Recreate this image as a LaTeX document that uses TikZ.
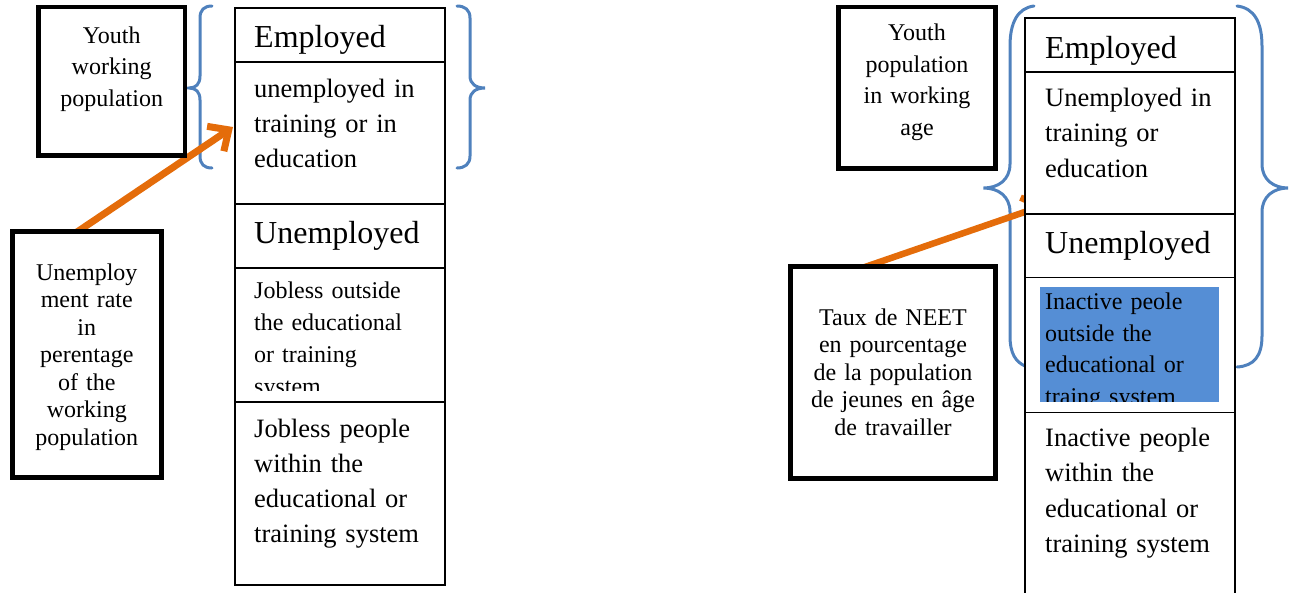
\documentclass[tikz,border=0pt]{standalone}
\usepackage{fontspec}
\setmainfont{Liberation Serif}
\usetikzlibrary{arrows.meta}
\definecolor{bracecol}{RGB}{79,129,189}
\definecolor{arrcol}{RGB}{228,108,10}
\definecolor{hlcol}{RGB}{85,142,213}
\begin{document}
\begin{tikzpicture}[x=1pt,y=-1pt,
  thickbox/.style={draw=black, fill=white, inner sep=0pt},
  cell/.style={draw=black, line width=1.5pt, fill=white, inner sep=0pt, anchor=north west, minimum width=210pt},
  bracestyle/.style={draw=bracecol, line width=3pt, line cap=round},
  conn/.style={draw=arrcol, line width=7pt},
  bigtext/.style={font=\fontsize{32}{38}\selectfont, anchor=base west, inner sep=0pt},
  midtext/.style={font=\fontsize{26.5}{35.2}\selectfont, anchor=base west, inner sep=0pt, text width=200pt, align=left},
  smalltext/.style={font=\fontsize{24}{32}\selectfont, anchor=base west, inner sep=0pt, text width=190pt, align=left},
  boxtext/.style={font=\fontsize{24}{#1}\selectfont, anchor=base, inner sep=0pt, text width=200pt, align=center},
]
\useasboundingbox (0,0) rectangle (1291,592);

% ---------- braces ----------
\draw[bracestyle] (212,6) .. controls (204,6) and (200,10) .. (200,18) -- (200,76)
  .. controls (200,84) and (196,88) .. (189,88) .. controls (196,88) and (200,92) .. (200,100)
  -- (200,156) .. controls (200,164) and (204,168) .. (212,168);
\draw[bracestyle] (457,6) .. controls (465,6) and (470,10) .. (470,18) -- (470,76)
  .. controls (470,84) and (476,88) .. (485,88) .. controls (476,88) and (470,92) .. (470,100)
  -- (470,156) .. controls (470,164) and (465,168) .. (457,168);
\draw[bracestyle] (1034,6) .. controls (1018,8) and (1010,22) .. (1010,46) -- (1010,164)
  .. controls (1010,180) and (998,188) .. (983.5,188) .. controls (998,188) and (1010,196) .. (1010,212)
  -- (1010,336) .. controls (1010,354) and (1016,362) .. (1025,366);
\draw[bracestyle] (1237,6) .. controls (1254,8) and (1262,22) .. (1262,46) -- (1262,164)
  .. controls (1262,180) and (1274,188) .. (1288,188) .. controls (1274,188) and (1262,196) .. (1262,212)
  -- (1262,336) .. controls (1262,356) and (1254,366) .. (1237,367);

% ---------- right connector (partly hidden behind the column) ----------
\coordinate (ra) at (862,268);
\coordinate (rb) at (1045,205);
\draw[conn, line width=6.5pt, -{Straight Barb[length=16pt,width=30pt]}] (ra) -- (rb);

% ---------- left column ----------
\node[cell, minimum height=54pt]  (lc1) at (234,7) {};
\node[cell, minimum height=142pt] (lc2) at (234,61) {};
\node[cell, minimum height=64pt]  (lc3) at (234,203) {};
\node[cell, minimum height=134pt] (lc4) at (234,267) {};
\node[cell, minimum height=183pt] (lc5) at (234,401) {};

\node[bigtext] (lt1) at (254,47) {Employed};
\node[midtext] (lt2) at (254,97) {unemployed in\\training or in\\education};
\node[bigtext] (lt3) at (254,243) {Unemployed};
\begin{scope}
  \clip (236,269) rectangle (442,390);
  \node[smalltext] (lt4) at (254,298) {Jobless outside\\the educational\\or training\\system};
\end{scope}
\node[midtext] (lt5) at (254,437) {Jobless people\\within the\\educational or\\training system};

% ---------- right column ----------
\node[cell, minimum height=53.7pt]  (rc1) at (1024.3,17.3) {};
\node[cell, minimum height=142.3pt] (rc2) at (1024.3,71) {};
\node[cell, minimum height=63.4pt]  (rc3) at (1024.3,213.3) {};
\node[cell, minimum height=135pt]   (rc4) at (1024.3,276.7) {};
\node[cell, minimum height=220pt]   (rc5) at (1024.3,411.7) {};

\fill[hlcol] (1040,287.3) rectangle (1218.7,401.7);

\node[bigtext] (rt1) at (1045,58.3) {Employed};
\node[midtext] (rt2) at (1045,106.7) {Unemployed in\\training or\\education};
\node[bigtext] (rt3) at (1045,253.3) {Unemployed};
\begin{scope}
  \clip (1040,287.3) rectangle (1218.7,401.7);
  \node[smalltext, font=\fontsize{24}{31.7}\selectfont] (rt4) at (1045,309.3) {Inactive peole\\outside the\\educational or\\traing system};
\end{scope}
\node[midtext] (rt5) at (1045,446.7) {Inactive people\\within the\\educational or\\training system};

% ---------- left connector ----------
\coordinate (la) at (77,232);
\coordinate (lb) at (233,127);
\draw[conn, -{Straight Barb[length=16pt,width=30pt]}] (la) -- (lb);

% ---------- thick boxes ----------
\node[thickbox, line width=4.7pt, minimum width=146.7pt, minimum height=148.7pt] (ly) at (111.7,81.4) {};
\node[boxtext=31.5] (lyt) at (111.7,43) {Youth\\working\\population};

\node[thickbox, line width=5.5pt, minimum width=149.1pt, minimum height=246.2pt] (lu) at (86.8,354.4) {};
\node[boxtext=27.5] (lut) at (86.8,280) {Unemploy\\ment rate\\in\\perentage\\of the\\working\\population};

\node[thickbox, line width=4.8pt, minimum width=157.5pt, minimum height=161.2pt] (ry) at (917,87.6) {};
\node[boxtext=31.5] (ryt) at (917,40.5) {Youth\\population\\in working\\age};

\node[thickbox, line width=5pt, minimum width=205.5pt, minimum height=211.6pt] (rn) at (893,372.5) {};
\node[boxtext=27.5] (rnt) at (893,325) {Taux de NEET\\en pourcentage\\de la population\\de jeunes en âge\\de travailler};
\end{tikzpicture}
\end{document}
